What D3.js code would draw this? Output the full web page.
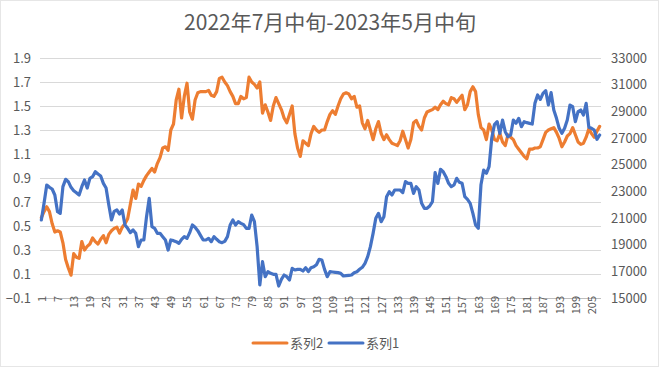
<!DOCTYPE html>
<html><head><meta charset="utf-8">
<script src="https://cdn.jsdelivr.net/npm/d3@7"></script>
<style>body{margin:0;background:#fff}svg{display:block}</style>
</head><body>
<svg id="c" width="660" height="368"></svg>
<script>
const title = "2022年7月中旬-2023年5月中旬";
const series2Name = "系列2";
const series1Name = "系列1";
const leftTicks = [-0.1,0.1,0.3,0.5,0.7,0.9,1.1,1.3,1.5,1.7,1.9];
const rightTicks = [15000,17000,19000,21000,23000,25000,27000,29000,31000,33000];
const series2 = [
0.57,0.62,0.66,0.62,0.52,0.45,0.46,0.45,0.36,0.22,
0.15,0.09,0.27,0.24,0.23,0.37,0.30,0.33,0.35,0.40,
0.37,0.35,0.39,0.42,0.36,0.43,0.46,0.48,0.49,0.44,
0.49,0.52,0.56,0.68,0.80,0.73,0.85,0.83,0.88,0.92,
0.95,0.98,0.95,1.02,1.07,1.15,1.16,1.13,1.30,1.35,
1.55,1.64,1.40,1.58,1.69,1.45,1.39,1.55,1.61,1.62,
1.62,1.62,1.63,1.59,1.58,1.62,1.73,1.74,1.70,1.67,
1.62,1.58,1.52,1.52,1.58,1.56,1.57,1.74,1.70,1.68,
1.65,1.70,1.44,1.51,1.45,1.38,1.50,1.57,1.52,1.47,
1.40,1.36,1.43,1.50,1.27,1.15,1.08,1.21,1.19,1.17,
1.27,1.33,1.30,1.28,1.30,1.30,1.37,1.43,1.46,1.43,
1.50,1.56,1.60,1.61,1.60,1.56,1.58,1.49,1.50,1.36,
1.31,1.38,1.30,1.22,1.31,1.37,1.27,1.22,1.26,1.22,
1.19,1.18,1.17,1.21,1.29,1.22,1.15,1.22,1.36,1.38,
1.33,1.30,1.40,1.45,1.46,1.47,1.49,1.47,1.51,1.54,
1.52,1.51,1.57,1.56,1.53,1.56,1.59,1.47,1.51,1.62,
1.66,1.62,1.43,1.32,1.30,1.22,1.35,1.30,1.22,1.21,
1.27,1.20,1.17,1.26,1.24,1.22,1.17,1.14,1.11,1.08,
1.06,1.14,1.14,1.15,1.15,1.16,1.22,1.28,1.30,1.31,
1.32,1.28,1.23,1.16,1.20,1.25,1.27,1.32,1.26,1.20,
1.18,1.19,1.24,1.31,1.27,1.24,1.29,1.33
];
const series1 = [
20850,22100,23475,23300,23175,22725,21475,21350,23350,23900,
23725,23300,23050,22900,22725,23350,23850,23250,23975,24100,
24475,24300,24150,23600,23250,22000,20850,21500,21600,21300,
21600,20475,20225,19900,20100,19850,18850,19350,19350,21100,
22475,20350,20225,19850,19850,19600,19350,18600,19350,19300,
19225,19100,19400,19600,19475,19900,20475,20300,20050,19700,
19350,19350,19475,19225,19600,19400,19225,19150,19250,19600,
20475,20850,20475,20725,20600,20500,20225,20225,21225,20725,
18850,15975,17725,16600,16975,16850,16775,16775,15900,16400,
16725,16600,16350,17225,17100,17150,17150,17025,17275,16975,
17275,17350,17500,17900,17850,17150,16600,16975,16950,16925,
16900,16850,16650,16675,16700,16725,16900,16975,17150,17300,
17600,18100,18850,19850,20975,21350,20725,21100,22600,22975,
22725,23100,23100,23100,22900,23725,23600,23600,22850,23350,
23100,22100,21725,21725,21900,22225,24400,23600,24650,24475,
24100,23600,23350,23475,23975,23675,23600,22600,22400,22100,
21350,20475,20225,23500,24600,24350,24850,27000,28000,28225,
27350,28350,27475,27100,27225,28350,28100,28475,27850,28225,
28150,28100,28050,29600,30225,29900,30350,30550,29475,30400,
29100,28475,27725,27350,27725,28350,29475,29350,28225,28975,
29100,28725,29600,27800,27725,27600,26900,27225
];
const categories = series2.map((d,i)=>String(i+1));
const xTickLabels = categories.filter((d,i)=>i%6===0);

const svg = d3.select("#c");
const txt = "#595959", grid = "#d9d9d9";
const font = "'Noto Sans CJK SC','Noto Sans',sans-serif";
const L = 40, R = 601, T = 58, B = 298;

svg.append("rect").attr("x",0.5).attr("y",0.5).attr("width",658).attr("height",366)
  .attr("fill","#fff").attr("stroke","#e6e6e6");

const x = d3.scalePoint().domain(categories).range([L,R]).padding(0.5);
const yL = d3.scaleLinear().domain([-0.1,1.9]).range([B,T]);
const yR = d3.scaleLinear().domain([15000,33000]).range([B,T]);

svg.append("text").attr("x",330).attr("y",30).attr("text-anchor","middle")
  .attr("font-family",font).attr("font-size",21).attr("fill",txt).text(title);

// gridlines
svg.append("g").selectAll("line").data(leftTicks).join("line")
  .attr("x1",L).attr("x2",R).attr("y1",d=>Math.round(yL(d))+0.5).attr("y2",d=>Math.round(yL(d))+0.5)
  .attr("stroke",grid).attr("stroke-width",1);

// left axis
const gl = svg.append("g").attr("transform",`translate(${L},0)`)
  .call(d3.axisLeft(yL).tickValues(leftTicks).tickFormat(d3.format(".1f")).tickSize(0).tickPadding(9));
gl.select(".domain").remove();
gl.selectAll("text").attr("font-family",font).attr("font-size",13).attr("fill",txt);

// right axis
const gr = svg.append("g").attr("transform",`translate(${R},0)`)
  .call(d3.axisRight(yR).tickValues(rightTicks).tickFormat(d3.format("d")).tickSize(0).tickPadding(10));
gr.select(".domain").remove();
gr.selectAll("text").attr("font-family",font).attr("font-size",13).attr("fill",txt);

// bottom axis
const gb = svg.append("g").attr("transform",`translate(0,${B})`)
  .call(d3.axisBottom(x).tickValues(xTickLabels).tickSize(0));
gb.select(".domain").attr("stroke","#bfbfbf").attr("d",`M${L},0.5H${R}`);
gb.selectAll(".tick text").attr("font-family",font).attr("font-size",11).attr("fill",txt)
  .attr("transform","rotate(-90)").attr("text-anchor","end")
  .attr("x",2).attr("y",0).attr("dy","0.35em");

// lines
const line2 = d3.line().x((d,i)=>x(categories[i])).y(d=>yL(d));
const line1 = d3.line().x((d,i)=>x(categories[i])).y(d=>yR(d));
svg.append("path").datum(series2).attr("d",line2).attr("fill","none")
  .attr("stroke","#ED7D31").attr("stroke-width",3.2).attr("stroke-linejoin","round").attr("stroke-linecap","round");
svg.append("path").datum(series1).attr("d",line1).attr("fill","none")
  .attr("stroke","#4472C4").attr("stroke-width",3.2).attr("stroke-linejoin","round").attr("stroke-linecap","round");

// legend
const lg = svg.append("g").attr("font-family",font).attr("font-size",13).attr("fill",txt);
const legendItems = [{name:series2Name,color:"#ED7D31",x:253},{name:series1Name,color:"#4472C4",x:329}];
legendItems.forEach(it=>{
  lg.append("line").attr("x1",it.x).attr("x2",it.x+34).attr("y1",343).attr("y2",343)
    .attr("stroke",it.color).attr("stroke-width",3).attr("stroke-linecap","round");
  lg.append("text").attr("x",it.x+37).attr("y",347.5).text(it.name);
});
</script>
</body></html>
